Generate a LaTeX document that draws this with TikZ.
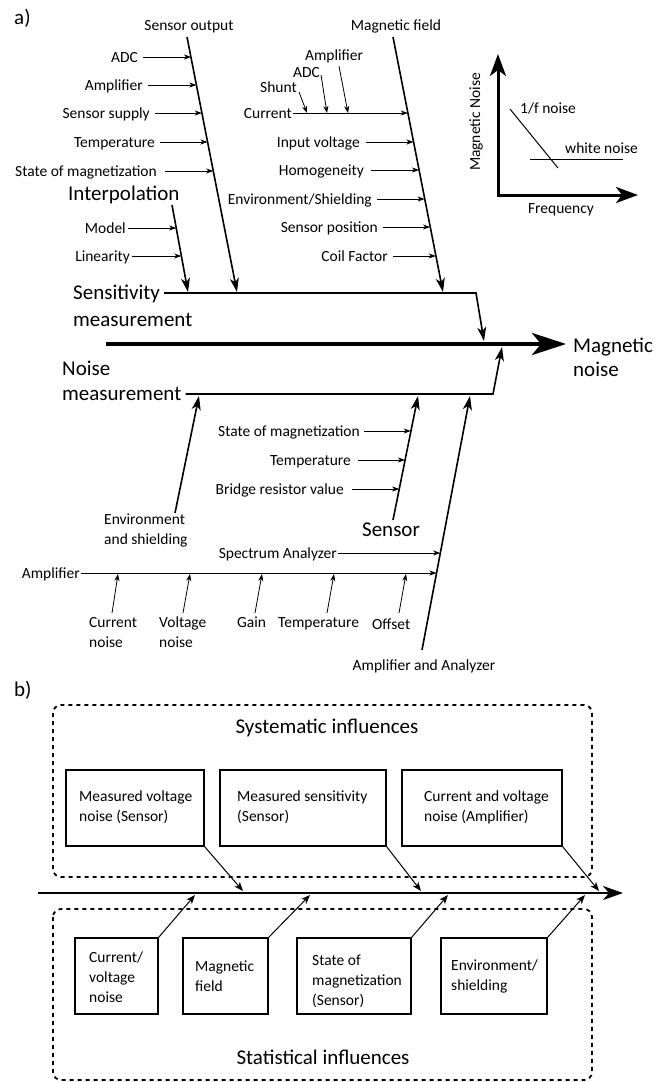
\documentclass[tikz,border=0pt]{standalone}
\usepackage{fontspec}
\setmainfont{Carlito}
\usetikzlibrary{arrows.meta}
\newcommand\fsm{\fontsize{15.5pt}{19pt}\selectfont}
\newcommand\flg{\fontsize{21pt}{25pt}\selectfont}
\begin{document}
\begin{tikzpicture}[x=1pt,y=-1pt,
  lbl/.style={font=\fsm, inner sep=0pt, text height=10pt, text depth=0pt},
  big/.style={font=\flg, inner sep=0pt, text height=13.5pt, text depth=0pt},
  bone/.style={line width=1.6pt, line join=miter, -{Stealth[length=14pt,width=9pt,inset=4pt]}},
  sub/.style={line width=0.8pt, -{Stealth[length=7pt,width=5pt,inset=2pt]}},
  spine/.style={line width=4pt, -{Stealth[length=34pt,width=22pt,inset=9pt]}},
  axisarr/.style={line width=3pt, line join=miter, {Stealth[length=22pt,width=16pt,inset=6pt]}-{Stealth[length=22pt,width=16pt,inset=6pt]}},
  thin/.style={line width=1pt},
  dotbox/.style={line width=1.8pt, dash pattern=on 4pt off 4pt, rounded corners=8pt},
  bspine/.style={line width=2.6pt, -{Stealth[length=20pt,width=14pt,inset=6pt]}},
  box/.style={draw, line width=1.5pt, inner sep=0pt},
  barrow/.style={line width=1pt, -{Stealth[length=9pt,width=7pt,inset=2.5pt]}}
]
\useasboundingbox (0,0) rectangle (665,1082);

% ================= a) =================
\node[big,anchor=west] (la) at (14,18) {a)};
\node[lbl] (tSO) at (189,25) {Sensor output};
\node[lbl] (tMF) at (396,25) {Magnetic field};

% Sensor output bone
\coordinate (so1) at (187,37); \coordinate (so2) at (237,292);
\draw[bone] (so1) -- (so2);
\node[lbl,anchor=east] (sADC) at (138,57) {ADC};
\node[lbl,anchor=east] (sAmp) at (143,85) {Amplifier};
\node[lbl,anchor=east] (sSup) at (150,113) {Sensor supply};
\node[lbl,anchor=east] (sTmp) at (155,142) {Temperature};
\node[lbl,anchor=east] (sSoM) at (157,171) {State of magnetization};
\coordinate (eADC) at (191,57);
\coordinate (eAmp) at (196.4,85);
\coordinate (eSup) at (201.8,113);
\coordinate (eTmp) at (207.5,142);
\coordinate (eSoM) at (213.2,171);
\draw[sub] ([xshift=5pt]sADC.east) -- (eADC);
\draw[sub] ([xshift=5pt]sAmp.east) -- (eAmp);
\draw[sub] ([xshift=5pt]sSup.east) -- (eSup);
\draw[sub] ([xshift=5pt]sTmp.east) -- (eTmp);
\draw[sub] ([xshift=8pt]sSoM.east) -- (eSoM);

% Interpolation bone
\node[big,anchor=west] (tInt) at (68,194) {Interpolation};
\coordinate (ip1) at (172,205); \coordinate (ip2) at (188,292);
\draw[bone] (ip1) -- (ip2);
\node[lbl,anchor=east] (sMod) at (126,228) {Model};
\node[lbl,anchor=east] (sLin) at (130,256) {Linearity};
\coordinate (eMod) at (176.2,228);
\coordinate (eLin) at (181.3,256);
\draw[sub] ([xshift=2pt]sMod.east) -- (eMod);
\draw[sub] ([xshift=2pt]sLin.east) -- (eLin);

% Magnetic field bone
\coordinate (mf1) at (393,37); \coordinate (mf2) at (443,292);
\draw[bone] (mf1) -- (mf2);
\node[lbl,anchor=east] (sCur) at (292,113) {Current};
\coordinate (eCur) at (407.8,113);
\draw[sub] ([xshift=1pt]sCur.east) -- (eCur);
\node[lbl,anchor=east] (sShu) at (297,87) {Shunt};
\node[lbl,anchor=east] (sADC2) at (320,72) {ADC};
\node[lbl] (sAmp2) at (334,55) {Amplifier};
\coordinate (eShu) at (307,113);
\coordinate (eADC2) at (327,113);
\coordinate (eAmp2) at (348,113);
\draw[sub] ([xshift=2pt,yshift=-5pt]sShu.east) -- (eShu);
\draw[sub] ([xshift=1pt,yshift=-3pt]sADC2.east) -- (eADC2);
\draw[sub] ([xshift=5pt,yshift=-6pt]sAmp2.south) -- (eAmp2);
\node[lbl,anchor=east] (sInV) at (360,142) {Input voltage};
\node[lbl,anchor=east] (sHom) at (364,170) {Homogeneity};
\node[lbl,anchor=east] (sEnv) at (372,199) {Environment/Shielding};
\node[lbl,anchor=east] (sPos) at (378,227) {Sensor position};
\node[lbl,anchor=east] (sCoi) at (388,256) {Coil Factor};
\coordinate (eInV) at (413.5,142);
\coordinate (eHom) at (419,170);
\coordinate (eEnv) at (424.6,199);
\coordinate (ePos) at (430.1,227);
\coordinate (eCoi) at (435.8,256);
\draw[sub] ([xshift=6pt]sInV.east) -- (eInV);
\draw[sub] ([xshift=7pt]sHom.east) -- (eHom);
\draw[sub] ([xshift=5pt]sEnv.east) -- (eEnv);
\draw[sub] ([xshift=5pt]sPos.east) -- (ePos);
\draw[sub] ([xshift=5pt]sCoi.east) -- (eCoi);

% Sensitivity measurement
\node[big,anchor=west] (tSen) at (73,293) {Sensitivity};
\node[big,anchor=west] (tSen2) at (73,320) {measurement};
\coordinate (sl2) at (476,293); \coordinate (sl3) at (484,341);
\draw[bone] ([xshift=4pt]tSen.east) -- (sl2) -- (sl3);

% Main spine
\coordinate (ms1) at (106,344); \coordinate (ms2) at (566,344);
\draw[spine] (ms1) -- (ms2);
\node[big,anchor=west] (tMN1) at (573,346) {Magnetic};
\node[big,anchor=west] (tMN2) at (573,370) {noise};

% Noise measurement
\node[big,anchor=west] (tNoi) at (62,369) {Noise};
\node[big,anchor=west] (tNoi2) at (62,394) {measurement};
\coordinate (nl2) at (493,394); \coordinate (nl3) at (502,347);
\draw[bone] ([xshift=4pt]tNoi2.east) -- (nl2) -- (nl3);

% Environment and shielding bone
\coordinate (en1) at (175,513); \coordinate (en2) at (199,396);
\draw[bone] (en1) -- (en2);
\node[lbl,anchor=west] (tEnv1) at (104,519) {Environment};
\node[lbl,anchor=west] (tEnv2) at (104,539) {and shielding};

% Sensor bone
\coordinate (se1) at (393,520); \coordinate (se2) at (418,396);
\draw[bone] (se1) -- (se2);
\node[big] (tSensor) at (391,530) {Sensor};
\node[lbl,anchor=east] (nSoM) at (360,431) {State of magnetization};
\node[lbl,anchor=east] (nTmp) at (351,460) {Temperature};
\node[lbl,anchor=east] (nBri) at (344,489) {Bridge resistor value};
\coordinate (fSoM) at (410.8,431);
\coordinate (fTmp) at (405,460);
\coordinate (fBri) at (399.2,489);
\draw[sub] ([xshift=4pt]nSoM.east) -- (fSoM);
\draw[sub] ([xshift=7pt]nTmp.east) -- (fTmp);
\draw[sub] ([xshift=8pt]nBri.east) -- (fBri);

% Amplifier and Analyzer bone
\coordinate (aa1) at (422,650); \coordinate (aa2) at (470,396);
\draw[bone] (aa1) -- (aa2);
\node[lbl] (tAA) at (424,665) {Amplifier and Analyzer};
\node[lbl,anchor=east] (nSpA) at (337,553) {Spectrum Analyzer};
\node[lbl,anchor=east] (nAmp) at (80,573) {Amplifier};
\coordinate (fSpA) at (440.3,553);
\coordinate (fAmp) at (436.5,573);
\draw[sub] ([xshift=1pt]nSpA.east) -- (fSpA);
\draw[sub] ([xshift=1pt]nAmp.east) -- (fAmp);
\node[lbl,anchor=west] (nCN1) at (89,622) {Current};
\node[lbl,anchor=west] (nCN2) at (89,642) {noise};
\node[lbl,anchor=west] (nVN1) at (159,622) {Voltage};
\node[lbl,anchor=west] (nVN2) at (159,642) {noise};
\node[lbl,anchor=west] (nGai) at (237,622) {Gain};
\node[lbl,anchor=west] (nTem) at (278,622) {Temperature};
\node[lbl,anchor=west] (nOff) at (372,624) {Offset};
\coordinate (gCN) at (112,613); \coordinate (hCN) at (118,574);
\coordinate (gVN) at (183,613); \coordinate (hVN) at (190,574);
\coordinate (gGa) at (255,613); \coordinate (hGa) at (262,574);
\coordinate (gTe) at (327,613); \coordinate (hTe) at (334,574);
\coordinate (gOf) at (399,613); \coordinate (hOf) at (406,574);
\draw[sub] (gCN) -- (hCN);
\draw[sub] (gVN) -- (hVN);
\draw[sub] (gGa) -- (hGa);
\draw[sub] (gTe) -- (hTe);
\draw[sub] (gOf) -- (hOf);

% Inset graph
\coordinate (ax1) at (498,54); \coordinate (ax0) at (498,195); \coordinate (ax2) at (638,195);
\draw[axisarr] (ax1) -- (ax0) -- (ax2);
\node[lbl,rotate=90] (tMNo) at (475,122) {Magnetic Noise};
\node[lbl] (tFre) at (561,208) {Frequency};
\node[lbl,anchor=west] (tOF) at (520,108) {1/f noise};
\node[lbl,anchor=west] (tWN) at (565,148) {white noise};
\coordinate (of1) at (510,109); \coordinate (of2) at (558,168);
\coordinate (wn1) at (530,159); \coordinate (wn2) at (623,159);
\draw[thin] (of1) -- (of2);
\draw[thin] (wn1) -- (wn2);

% ================= b) =================
\node[big,anchor=west] (lb) at (14,690) {b)};
\draw[dotbox] (53,705) rectangle (592,877);
\draw[dotbox] (53,909) rectangle (592,1080);
\node[big] (tSys) at (327,727) {Systematic influences};
\node[big] (tSta) at (323,1058) {Statistical influences};

\coordinate (bs1) at (38,893); \coordinate (bs2) at (623,893);
\draw[bspine] (bs1) -- (bs2);

\node[box,minimum width=138pt,minimum height=76pt] (b1) at (135,808) {};
\node[box,minimum width=166pt,minimum height=76pt] (b2) at (303,808) {};
\node[box,minimum width=160pt,minimum height=76pt] (b3) at (482,808) {};
\node[lbl,anchor=west] (b1t1) at (79,796) {Measured voltage};
\node[lbl,anchor=west] (b1t2) at (79,816) {noise (Sensor)};
\node[lbl,anchor=west] (b2t1) at (237,796) {Measured sensitivity};
\node[lbl,anchor=west] (b2t2) at (237,816) {(Sensor)};
\node[lbl,anchor=west] (b3t1) at (424,796) {Current and voltage};
\node[lbl,anchor=west] (b3t2) at (424,816) {noise (Amplifier)};
\coordinate (p1) at (243,891); \coordinate (p2) at (421,891); \coordinate (p3) at (599,891);
\draw[barrow] (b1.south east) -- (p1);
\draw[barrow] (b2.south east) -- (p2);
\draw[barrow] (b3.south east) -- (p3);

\node[box,minimum width=83pt,minimum height=76pt] (bA) at (116.5,976) {};
\node[box,minimum width=85pt,minimum height=76pt] (bB) at (225.5,976) {};
\node[box,minimum width=114pt,minimum height=76pt] (bC) at (354,976) {};
\node[box,minimum width=106pt,minimum height=76pt] (bD) at (494,976) {};
\node[lbl,anchor=west] (bAt1) at (89,957) {Current/};
\node[lbl,anchor=west] (bAt2) at (89,977) {voltage};
\node[lbl,anchor=west] (bAt3) at (89,997) {noise};
\node[lbl,anchor=west] (bBt1) at (195,966) {Magnetic};
\node[lbl,anchor=west] (bBt2) at (195,986) {field};
\node[lbl,anchor=west] (bCt1) at (312,960) {State of};
\node[lbl,anchor=west] (bCt2) at (312,980) {magnetization};
\node[lbl,anchor=west] (bCt3) at (312,1000) {(Sensor)};
\node[lbl,anchor=west] (bDt1) at (451,965) {Environment/};
\node[lbl,anchor=west] (bDt2) at (451,985) {shielding};
\coordinate (qA) at (195,895); \coordinate (qB) at (310,895); \coordinate (qC) at (448,895); \coordinate (qD) at (585,895);
\draw[barrow] (bA.north east) -- (qA);
\draw[barrow] (bB.north east) -- (qB);
\draw[barrow] (bC.north east) -- (qC);
\draw[barrow] (bD.north east) -- (qD);
\end{tikzpicture}
\end{document}
